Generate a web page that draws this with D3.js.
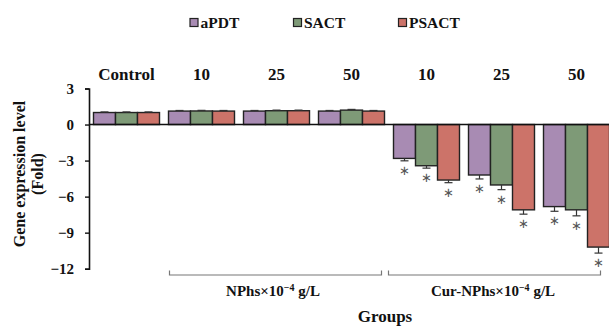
<!DOCTYPE html>
<html>
<head>
<meta charset="utf-8">
<script src="https://cdn.jsdelivr.net/npm/d3@7"></script>
<style>
  html, body { margin: 0; padding: 0; background: #fff; }
  svg { display: block; }
</style>
</head>
<body>
<svg id="chart" width="609" height="326" font-family="'Liberation Serif', 'Times New Roman', 'DejaVu Serif', serif" font-weight="bold"></svg>
<script>
// Groups along the x axis (first four: NPhs, last three: Cur-NPhs)
const groups = ["Control", "N10", "N25", "N50", "C10", "C25", "C50"];
const groupLabels = ["Control", "10", "25", "50", "10", "25", "50"];
const seriesNames = ["aPDT", "SACT", "PSACT"];
const seriesColors = ["#a88bb3", "#7e9a77", "#cc7369"];

// Fold change per series, one value per group
const aPDT  = [1.0, 1.12, 1.12, 1.12, -2.82, -4.2, -6.83];
const SACT  = [1.0, 1.13, 1.15, 1.2, -3.43, -5.03, -7.1];
const PSACT = [1.0, 1.12, 1.15, 1.12, -4.62, -7.1, -10.2];
// Error (SD) per series
const aPDTErr  = [0.05, 0.05, 0.05, 0.05, 0.2, 0.33, 0.39];
const SACTErr  = [0.05, 0.05, 0.05, 0.06, 0.2, 0.39, 0.5];
const PSACTErr = [0.05, 0.05, 0.05, 0.05, 0.22, 0.36, 0.5];
// Significance marks
const signif = [false, false, false, false, true, true, true];

const yTicks = [3, 0, -3, -6, -9, -12];

const values = [aPDT, SACT, PSACT];
const errors = [aPDTErr, SACTErr, PSACTErr];
const FONT = "'Liberation Serif', 'Times New Roman', 'DejaVu Serif', serif";

const svg = d3.select("#chart");

const x = d3.scaleBand().domain(groups).range([89, 614])
  .paddingInner(0.12).paddingOuter(0.06);
const xs = d3.scaleBand().domain(seriesNames).range([0, x.bandwidth()]);
const y = d3.scaleLinear().domain([-12, 3]).range([268.7, 88.5]);

// Bars
const rows = [];
groups.forEach((g, gi) => {
  seriesNames.forEach((s, si) => {
    rows.push({ g, gi, s, si, v: values[si][gi], e: errors[si][gi], sig: signif[gi] });
  });
});

const bars = svg.append("g");
bars.selectAll("rect").data(rows).join("rect")
  .attr("x", d => x(d.g) + xs(d.s))
  .attr("y", d => y(Math.max(0, d.v)))
  .attr("width", xs.bandwidth())
  .attr("height", d => Math.abs(y(d.v) - y(0)))
  .attr("fill", d => seriesColors[d.si])
  .attr("stroke", "#222")
  .attr("stroke-width", 1.4);

// Error bars
const eb = svg.append("g").attr("stroke", "#333").attr("stroke-width", 1.2);
rows.forEach(d => {
  const cx = x(d.g) + xs(d.s) + xs.bandwidth() / 2;
  const end = d.v >= 0 ? d.v + d.e : d.v - d.e;
  eb.append("line").attr("x1", cx).attr("x2", cx).attr("y1", y(d.v)).attr("y2", y(end));
  eb.append("line").attr("x1", cx - 4).attr("x2", cx + 4).attr("y1", y(end)).attr("y2", y(end));
});

// Asterisks
svg.append("g").selectAll("text").data(rows.filter(d => d.sig)).join("text")
  .attr("x", d => x(d.g) + xs(d.s) + xs.bandwidth() / 2)
  .attr("y", d => y(d.v - d.e) + 14)
  .attr("text-anchor", "middle")
  .attr("font-family", "'DejaVu Sans', sans-serif")
  .attr("font-size", 13)
  .attr("font-weight", "normal")
  .attr("fill", "#555")
  .text("∗");

// Zero line across the plot
svg.append("line")
  .attr("x1", 89).attr("x2", 609).attr("y1", y(0)).attr("y2", y(0))
  .attr("stroke", "#111").attr("stroke-width", 1.5);

// Y axis
const yAxis = svg.append("g").attr("transform", "translate(89,0)")
  .call(d3.axisLeft(y).tickValues(yTicks).tickSize(4).tickPadding(11).tickFormat(d3.format("d")))
  .attr("font-family", FONT).attr("font-size", 15);
yAxis.select(".domain").attr("stroke", "#111").attr("stroke-width", 1.6);
yAxis.selectAll(".tick line").attr("stroke", "#111").attr("stroke-width", 1.4);
yAxis.selectAll(".tick text").attr("fill", "#111");

// Y axis title
const yt = svg.append("text")
  .attr("transform", "translate(25,174) rotate(-90)")
  .attr("text-anchor", "middle")
  .attr("font-size", 16)
  .attr("fill", "#111");
yt.append("tspan").attr("x", 0).attr("dy", 0).text("Gene expression level");
yt.append("tspan").attr("x", 0).attr("dy", 18).text("(Fold)");

// Group labels above the plot
svg.append("g").selectAll("text").data(groups).join("text")
  .attr("x", d => x(d) + x.bandwidth() / 2)
  .attr("y", 79.5)
  .attr("text-anchor", "middle")
  .attr("font-size", 17)
  .attr("fill", "#111")
  .text((d, i) => groupLabels[i]);

// Brackets under the axis
const brackets = [
  { x1: 169.5, x2: 381.5, label: "NPhs", cx: 273 },
  { x1: 388.5, x2: 600.5, label: "Cur-NPhs", cx: 493 }
];
const br = svg.append("g");
brackets.forEach(b => {
  br.append("path")
    .attr("d", `M${b.x1},270.5 V275 H${b.x2} V270.5`)
    .attr("fill", "none").attr("stroke", "#777").attr("stroke-width", 1.2);
  const t = br.append("text").attr("x", b.cx).attr("y", 296)
    .attr("text-anchor", "middle").attr("font-size", 15).attr("fill", "#111");
  t.append("tspan").text(b.label + "×10");
  t.append("tspan").attr("dy", -5).attr("font-size", 10).text("−4");
  t.append("tspan").attr("dy", 5).text(" g/L");
});

// X axis title
svg.append("text").attr("x", 385).attr("y", 321.5)
  .attr("text-anchor", "middle").attr("font-size", 17).attr("fill", "#111")
  .text("Groups");

// Legend
const legendX = [190, 293.5, 398.5];
const lg = svg.append("g");
seriesNames.forEach((s, i) => {
  lg.append("rect").attr("x", legendX[i]).attr("y", 18.5).attr("width", 8).attr("height", 8)
    .attr("fill", seriesColors[i]).attr("stroke", "#222").attr("stroke-width", 1.2);
  lg.append("text").attr("x", legendX[i] + 10.5).attr("y", 28)
    .attr("font-size", 15.5).attr("fill", "#111").text(s);
});
</script>
</body>
</html>
